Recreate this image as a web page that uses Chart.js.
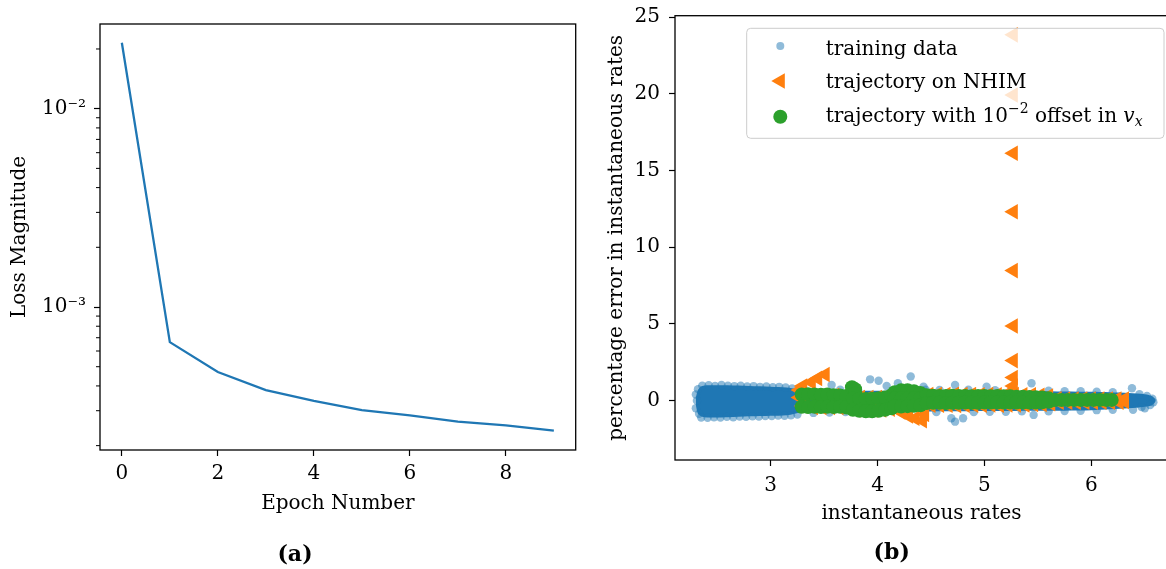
<!DOCTYPE html>
<html>
<head>
<meta charset="utf-8">
<script src="https://cdn.jsdelivr.net/npm/chart.js@4"></script>
<style>
  html, body { margin: 0; padding: 0; background: #fff; overflow: hidden; }
  #wrap { position: relative; width: 1166px; height: 569px; overflow: hidden; }
  canvas { position: absolute; top: 0; }
  #lossChart { left: 0; }
  #rateChart { left: 590px; }
</style>
</head>
<body>
<div id="wrap">
  <canvas id="lossChart" width="590" height="569"></canvas>
  <canvas id="rateChart" width="590" height="569"></canvas>
</div>
<script>
// ---- panel (a): training loss per epoch ----
const epochs = [0, 1, 2, 3, 4, 5, 6, 7, 8, 9];
const lossValues = [0.0215, 6.65e-4, 4.70e-4, 3.81e-4, 3.36e-4, 3.02e-4, 2.84e-4, 2.64e-4, 2.53e-4, 2.38e-4];
const epochTicks = [0, 2, 4, 6, 8];
const lossTicks = [1e-3, 1e-2];
const lossTickLabels = ['10⁻³', '10⁻²'];
const lossMinorTicks = [2e-4, 3e-4, 4e-4, 5e-4, 6e-4, 7e-4, 8e-4, 9e-4,
                        2e-3, 3e-3, 4e-3, 5e-3, 6e-3, 7e-3, 8e-3, 9e-3, 2e-2];

// ---- panel (b): percentage error vs instantaneous rate ----
// dense core of the training cloud (upper / lower edge)
const coreX      = [2.30, 2.32, 2.36, 2.45, 2.60, 2.80, 3.00, 3.15, 3.30, 3.60, 4.00, 4.50, 5.00, 5.50, 6.00, 6.35, 6.50, 6.57, 6.60];
const coreTop    = [0.20, 0.70, 0.95, 1.00, 1.00, 0.95, 0.90, 0.85, 0.70, 0.65, 0.65, 0.65, 0.65, 0.62, 0.58, 0.50, 0.42, 0.28, 0.05];
const coreBottom = [-0.30, -0.85, -1.05, -1.10, -1.08, -1.02, -0.98, -0.95, -0.75, -0.70, -0.70, -0.70, -0.68, -0.66, -0.62, -0.50, -0.40, -0.28, -0.05];

// loose training points around the edge of the cloud
const trainX = [2.30, 2.30, 2.31, 2.32, 2.33,
                2.36, 2.42, 2.48, 2.54, 2.60, 2.66, 2.72, 2.78, 2.84, 2.90, 2.96, 3.02, 3.08, 3.14, 3.20,
                2.35, 2.41, 2.47, 2.53, 2.59, 2.65, 2.71, 2.77, 2.83, 2.89, 2.95, 3.01, 3.07, 3.13, 3.19, 3.25,
                3.65, 3.80, 4.45, 4.58, 4.85, 5.10, 5.25, 5.60, 5.75, 5.90, 6.05, 6.20,
                3.57, 3.93, 4.01, 4.085, 4.19, 4.31, 4.43, 4.725, 5.02, 5.44, 6.38,
                3.40, 3.55, 3.70, 3.85, 4.00, 4.55, 4.90, 5.05, 5.20, 5.35, 5.60, 5.75, 5.90, 6.05, 6.20,
                4.69, 4.80, 4.725, 5.46, 6.39, 6.50,
                6.45, 6.52, 6.57, 6.58, 6.55, 6.47];
const trainY = [0.40, -0.50, 0.00, 0.75, -0.85,
                0.98, 1.00, 0.96, 1.02, 0.98, 0.95, 0.97, 0.93, 0.95, 0.90, 0.92, 0.88, 0.90, 0.86, 0.80,
                -1.10, -1.12, -1.08, -1.10, -1.06, -1.08, -1.04, -1.06, -1.02, -1.03, -1.00, -1.00, -0.97, -0.98, -0.95, -0.90,
                0.72, 0.70, 0.72, 0.70, 0.72, 0.68, 0.70, 0.65, 0.62, 0.62, 0.58, 0.55,
                1.02, 1.39, 1.30, 0.96, 1.13, 1.57, 0.91, 1.02, 0.91, 1.13, 0.81,
                -0.80, -0.78, -0.75, -0.80, -0.78, -0.75, -0.75, -0.72, -0.72, -0.70, -0.70, -0.68, -0.66, -0.62, -0.60,
                -1.15, -1.15, -1.37, -0.93, -0.60, -0.50,
                0.42, 0.30, 0.12, -0.10, -0.28, -0.42];

// trajectory on NHIM
const nhimX = [3.27, 3.27, 3.30, 3.38, 3.44, 3.51, 3.30,
               3.60, 3.68, 3.76, 3.84, 3.92, 4.00, 4.08, 4.48, 4.56, 4.64, 4.72, 4.80, 4.88, 4.96, 5.04,
               5.12, 5.20, 5.28, 5.36, 5.44, 5.52, 5.60, 5.68, 5.76, 5.84, 5.92, 6.00, 6.08, 6.16, 6.24, 6.31,
               3.40, 3.48, 3.56, 3.64, 3.72, 3.80, 3.88, 3.96, 4.04, 4.12, 4.50, 4.58, 4.66, 4.74, 4.82, 4.90,
               4.98, 5.06, 5.14, 5.22, 5.30, 5.38, 5.46, 5.54, 5.62, 5.70, 5.78, 5.86, 5.94, 6.02, 6.10, 6.18,
               6.26, 6.31,
               4.22, 4.29, 4.35, 4.42, 4.44,
               5.27, 5.27, 5.27, 5.27, 5.27, 5.27, 5.27, 5.27, 5.27];
const nhimY = [0.70, 0.20, 0.95, 1.20, 1.45, 1.71, -0.35,
               0.35, 0.30, 0.20, 0.20, 0.20, 0.20, 0.25, 0.40, 0.40, 0.40, 0.42, 0.40, 0.40, 0.38, 0.40,
               0.38, 0.40, 0.40, 0.38, 0.38, 0.35, 0.30, 0.12, 0.10, 0.10, 0.10, 0.10, 0.10, 0.10, 0.10, 0.10,
               -0.45, -0.45, -0.45, -0.45, -0.50, -0.60, -0.60, -0.60, -0.60, -0.55, -0.30, -0.30, -0.30, -0.32, -0.30, -0.30,
               -0.30, -0.28, -0.30, -0.28, -0.28, -0.28, -0.25, -0.25, -0.20, -0.10, -0.10, -0.10, -0.10, -0.10, -0.10, -0.10,
               -0.10, -0.05,
               -0.75, -1.00, -1.15, -1.30, -0.90,
               23.85, 19.93, 16.13, 12.32, 8.48, 4.87, 2.61, 1.51, 0.96];

// trajectory with 10^-2 offset in v_x
const offsetX = [3.29, 3.35, 3.41, 3.47, 3.53, 3.59, 3.65, 3.71,
                 3.29, 3.35, 3.41, 3.47, 3.53, 3.59, 3.65, 3.71,
                 3.76, 3.79, 3.79,
                 3.77, 3.83, 3.89, 3.95, 4.01, 4.07, 4.13,
                 3.77, 3.83, 3.89, 3.95, 4.01, 4.07, 4.13,
                 4.16, 4.22, 4.28, 4.34, 4.40,
                 4.16, 4.22, 4.28, 4.34, 4.40,
                 4.16, 4.22, 4.28, 4.34, 4.40,
                 4.46, 4.52, 4.58, 4.64, 4.70, 4.76, 4.82, 4.88, 4.94, 5.00,
                 5.06, 5.12, 5.18, 5.24, 5.30, 5.36, 5.42, 5.48, 5.54, 5.60,
                 4.46, 4.52, 4.58, 4.64, 4.70, 4.76, 4.82, 4.88, 4.94, 5.00,
                 5.06, 5.12, 5.18, 5.24, 5.30, 5.36, 5.42, 5.48, 5.54, 5.60,
                 5.66, 5.72, 5.78, 5.84, 5.90, 5.96, 6.02, 6.08, 6.14, 6.19];
const offsetY = [0.40, 0.42, 0.40, 0.38, 0.40, 0.36, 0.34, 0.30,
                 -0.40, -0.42, -0.40, -0.42, -0.40, -0.42, -0.40, -0.45,
                 0.88, 0.75, 0.45,
                 0.15, 0.12, 0.10, 0.12, 0.15, 0.20, 0.35,
                 -0.60, -0.66, -0.69, -0.69, -0.66, -0.60, -0.50,
                 0.55, 0.67, 0.68, 0.62, 0.50,
                 0.15, 0.15, 0.15, 0.15, 0.15,
                 -0.36, -0.38, -0.36, -0.34, -0.30,
                 0.35, 0.32, 0.30, 0.30, 0.32, 0.30, 0.30, 0.28, 0.30, 0.30,
                 0.28, 0.30, 0.28, 0.28, 0.26, 0.26, 0.24, 0.22, 0.20, 0.15,
                 -0.15, -0.14, -0.14, -0.15, -0.14, -0.14, -0.12, -0.14, -0.14, -0.12,
                 -0.12, -0.12, -0.12, -0.12, -0.12, -0.12, -0.12, -0.12, -0.10, -0.08,
                 0.04, 0.04, 0.05, 0.05, 0.05, 0.05, 0.05, 0.05, 0.05, 0.05];
const rateTicks = [3, 4, 5, 6];
const errorTicks = [0, 5, 10, 15, 20, 25];

const blue = '#1f77b4';
const orange = '#ff7f0e';
const green = '#2ca02c';

Chart.defaults.font.family = "'DejaVu Serif', serif";
Chart.defaults.font.size = 20;
Chart.defaults.color = '#000';

function pairs(xs, ys) {
    return xs.map((x, i) => ({ x: x, y: ys[i] }));
}

// box round the plot, minor log ticks and the (a)/(b) caption
const frame = {
    id: 'frame',
    afterDraw(chart, args, opts) {
        const ctx = chart.ctx;
        const a = chart.chartArea;
        ctx.save();
        ctx.strokeStyle = '#000';
        ctx.lineWidth = 1.3;
        ctx.strokeRect(a.left, a.top, a.right - a.left, a.bottom - a.top);
        if (opts.minor) {
            const ys = chart.scales.y;
            ctx.lineWidth = 1;
            opts.minor.forEach(v => {
                const p = ys.getPixelForValue(v);
                ctx.beginPath();
                ctx.moveTo(a.left - 4, p);
                ctx.lineTo(a.left, p);
                ctx.stroke();
            });
        }
        ctx.fillStyle = '#000';
        ctx.font = "bold 22px 'DejaVu Serif'";
        ctx.textAlign = 'center';
        ctx.textBaseline = 'middle';
        ctx.fillText(opts.caption, opts.captionX, opts.captionY);
        ctx.restore();
    }
};

// legend box drawn over the points, like matplotlib does
const legendBox = {
    id: 'legendBox',
    afterDatasetsDraw(chart) {
        const ctx = chart.ctx;
        const left = 156.7, top = 28.3, w = 417.3, h = 110, r = 4;
        ctx.save();
        ctx.beginPath();
        ctx.moveTo(left + r, top);
        ctx.lineTo(left + w - r, top);
        ctx.quadraticCurveTo(left + w, top, left + w, top + r);
        ctx.lineTo(left + w, top + h - r);
        ctx.quadraticCurveTo(left + w, top + h, left + w - r, top + h);
        ctx.lineTo(left + r, top + h);
        ctx.quadraticCurveTo(left, top + h, left, top + h - r);
        ctx.lineTo(left, top + r);
        ctx.quadraticCurveTo(left, top, left + r, top);
        ctx.closePath();
        ctx.fillStyle = 'rgba(255,255,255,0.8)';
        ctx.fill();
        ctx.strokeStyle = '#cccccc';
        ctx.lineWidth = 1;
        ctx.stroke();

        const mx = 190.3;
        // markers
        ctx.fillStyle = 'rgba(31,119,180,0.5)';
        ctx.beginPath(); ctx.arc(mx, 46, 4, 0, Math.PI * 2); ctx.fill();
        ctx.fillStyle = orange;
        ctx.beginPath();
        ctx.moveTo(mx - 9, 81);
        ctx.lineTo(mx + 4.5, 81 - 7.8);
        ctx.lineTo(mx + 4.5, 81 + 7.8);
        ctx.closePath(); ctx.fill();
        ctx.fillStyle = green;
        ctx.beginPath(); ctx.arc(mx, 116.7, 7, 0, Math.PI * 2); ctx.fill();

        // labels
        const tx = 235.7;
        ctx.fillStyle = '#000';
        ctx.textAlign = 'left';
        ctx.textBaseline = 'alphabetic';
        const main = "20px 'DejaVu Serif'";
        ctx.font = main;
        ctx.fillText('training data', tx, 55);
        ctx.fillText('trajectory on NHIM', tx, 88.3);
        let x = tx;
        const base = 121.5;
        const seg = (text, font, dy) => {
            ctx.font = font;
            ctx.fillText(text, x, base + dy);
            x += ctx.measureText(text).width;
        };
        seg('trajectory with 10', main, 0);
        seg('−2', "14px 'DejaVu Serif'", -9);
        seg(' offset in ', main, 0);
        seg('v', "italic 20px 'DejaVu Serif'", 0);
        seg('x', "italic 14px 'DejaVu Serif'", 4);
        ctx.restore();
    }
};

function axisStyle(extra) {
    return Object.assign({
        grid: { drawOnChartArea: false, drawTicks: true, tickLength: 6, tickColor: '#000', tickWidth: 1.2 },
        border: { display: false }
    }, extra);
}

function noPad(ax) {
    ax.paddingTop = 0;
    ax.paddingBottom = 0;
    ax.paddingLeft = 0;
    ax.paddingRight = 0;
}

// panel (a)
new Chart(document.getElementById('lossChart'), {
    type: 'line',
    data: {
        datasets: [{
            data: pairs(epochs, lossValues),
            borderColor: blue,
            borderWidth: 2.3,
            pointRadius: 0,
            fill: false,
            tension: 0
        }]
    },
    options: {
        responsive: false,
        animation: false,
        events: [],
        layout: { padding: { top: 24, right: 14.3, bottom: 33.4, left: 0 } },
        plugins: {
            legend: { display: false },
            tooltip: { enabled: false },
            frame: { caption: '(a)', captionX: 295, captionY: 555, minor: lossMinorTicks }
        },
        scales: {
            x: axisStyle({
                type: 'linear',
                min: -0.455,
                max: 9.455,
                afterBuildTicks: ax => { ax.ticks = epochTicks.map(v => ({ value: v })); },
                afterFit: ax => { ax.height = 85.6; noPad(ax); },
                ticks: { padding: 6, maxRotation: 0, autoSkip: false },
                title: { display: true, text: 'Epoch Number', padding: { top: 0, bottom: 19.6 } }
            }),
            y: axisStyle({
                type: 'logarithmic',
                min: 1.901e-4,
                max: 0.02673,
                afterBuildTicks: ax => { ax.ticks = lossTicks.map(v => ({ value: v })); },
                afterFit: ax => { ax.width = 100; noPad(ax); },
                ticks: { padding: 8, autoSkip: false, callback: (v, i) => lossTickLabels[i] },
                title: { display: true, text: 'Loss Magnitude', padding: { top: 8, bottom: 0 } }
            })
        }
    },
    plugins: [frame]
});

// panel (b)
new Chart(document.getElementById('rateChart'), {
    type: 'scatter',
    data: {
        datasets: [
            {
                type: 'line',
                data: pairs(coreX, coreTop),
                borderWidth: 0,
                pointRadius: 0,
                backgroundColor: blue,
                fill: '+1',
                tension: 0.3,
                order: 6
            },
            {
                type: 'line',
                data: pairs(coreX, coreBottom),
                borderWidth: 0,
                pointRadius: 0,
                fill: false,
                tension: 0.3,
                order: 5
            },
            {
                label: 'training data',
                data: pairs(trainX, trainY),
                pointRadius: 4.2,
                pointBorderWidth: 0,
                pointBackgroundColor: 'rgba(31,119,180,0.5)',
                order: 4
            },
            {
                label: 'trajectory on NHIM',
                data: pairs(nhimX, nhimY),
                pointStyle: 'triangle',
                pointRotation: -90,
                pointRadius: 9,
                pointBorderWidth: 0,
                pointBackgroundColor: orange,
                order: 2
            },
            {
                label: 'trajectory with 10^-2 offset in v_x',
                data: pairs(offsetX, offsetY),
                pointRadius: 7,
                pointBorderWidth: 0,
                pointBackgroundColor: green,
                order: 1
            }
        ]
    },
    options: {
        responsive: false,
        animation: false,
        events: [],
        layout: { padding: { top: 15.7, right: 12, bottom: 35.2, left: 0 } },
        plugins: {
            legend: { display: false },
            tooltip: { enabled: false },
            frame: { caption: '(b)', captionX: 301.7, captionY: 553 }
        },
        scales: {
            x: axisStyle({
                type: 'linear',
                min: 2.105,
                max: 6.717,
                afterBuildTicks: ax => { ax.ticks = rateTicks.map(v => ({ value: v })); },
                afterFit: ax => { ax.height = 73.8; noPad(ax); },
                ticks: { padding: 8, maxRotation: 0, autoSkip: false },
                title: { display: true, text: 'instantaneous rates', padding: { top: 0, bottom: 7.8 } }
            }),
            y: axisStyle({
                type: 'linear',
                min: -3.87,
                max: 25.10,
                afterBuildTicks: ax => { ax.ticks = errorTicks.map(v => ({ value: v })); },
                afterFit: ax => { ax.width = 85; noPad(ax); },
                ticks: { padding: 9, autoSkip: false },
                title: { display: true, text: 'percentage error in instantaneous rates', padding: { top: 15, bottom: 0 } }
            })
        }
    },
    plugins: [frame, legendBox]
});
</script>
</body>
</html>
